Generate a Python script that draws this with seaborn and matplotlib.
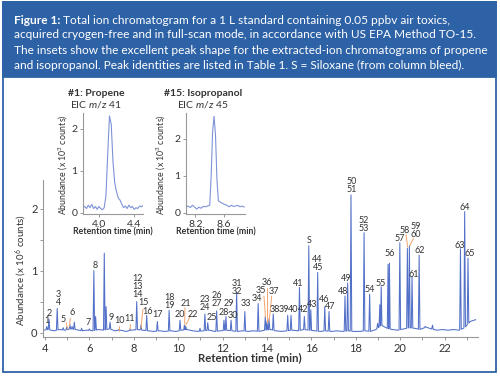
import numpy as np
import pandas as pd
import matplotlib
matplotlib.use("Agg")
import matplotlib.pyplot as plt
from matplotlib.patches import Rectangle
import seaborn as sns

# ---------------------------------------------------------------
# Data
# ---------------------------------------------------------------
# baseline (x 10^6 counts), one value every 0.25 min from 3.9 to 23.4 min
baseline_levels = [
    0.04, 0.05, 0.03, 0.05, 0.04, 0.06, 0.05, 0.03, 0.04, 0.03,
    0.05, 0.04, 0.06, 0.03, 0.04, 0.02, 0.04, 0.05, 0.04, 0.03,
    0.02, 0.03, 0.02, 0.03, 0.02, 0.04, 0.05, 0.03, 0.02, 0.03,
    0.04, 0.02, 0.03, 0.04, 0.03, 0.02, 0.03, 0.02, 0.03, 0.02,
    0.04, 0.05, 0.03, 0.02, 0.03, 0.04, 0.03, 0.05, 0.04, 0.03,
    0.02, 0.03, 0.02, 0.03, 0.02, 0.03, 0.02, 0.02, 0.03, 0.02,
    0.05, 0.12, 0.07, 0.05, 0.04, 0.06, 0.08, 0.07, 0.05, 0.09,
    0.06, 0.04, 0.05, 0.04, 0.05, 0.04, 0.08, 0.18, 0.21,
]

peak_times = [
    4.08, 4.18, 4.55, 4.82, 4.98, 5.12, 5.22, 5.32, 5.65, 6.00,
    6.20, 6.28, 6.67, 6.75, 6.93, 7.32, 7.83, 8.13, 8.32, 8.58,
    9.06, 9.59, 10.08, 10.28, 10.34, 10.98, 11.20, 11.33, 11.73, 12.06,
    12.15, 12.38, 12.63, 13.00, 13.60, 13.92, 14.00, 14.09, 14.28, 14.93,
    15.08, 15.46, 15.68, 15.88, 15.97, 16.28, 16.60, 16.79, 17.51, 17.63,
    17.78, 18.37, 18.62, 18.98, 19.08, 19.14, 19.45, 19.51, 19.98, 20.32,
    20.41, 20.53, 20.85, 21.12, 21.45, 22.71, 22.90, 23.05,
]
peak_heights = [
    0.10, 0.22, 0.39, 0.08, 0.09, 0.13, 0.10, 0.17, 0.07, 0.06,
    1.00, 0.26, 1.28, 0.42, 0.17, 0.05, 0.06, 0.50, 0.12, 0.28,
    0.18, 0.36, 0.20, 0.12, 0.10, 0.07, 0.30, 0.16, 0.35, 0.20,
    0.26, 0.20, 0.65, 0.34, 0.47, 0.26, 0.18, 0.22, 0.30, 0.28,
    0.28, 0.73, 0.26, 1.40, 0.37, 0.97, 0.42, 0.34, 0.59, 0.80,
    2.22, 1.61, 0.62, 0.15, 0.45, 0.74, 1.10, 1.12, 1.45, 1.36,
    1.40, 0.90, 1.25, 0.10, 0.12, 1.35, 1.95, 1.20,
]

# peak labels: text, retention time, abundance
label_text = ["1", "2", "3", "4", "5", "6", "7", "8", "9", "10", "11",
              "12", "13", "14", "15", "16", "17", "18", "19", "20", "21",
              "22", "23", "24", "25", "26", "27", "28", "29", "30", "31",
              "32", "33", "34", "35", "36", "37", "38", "39", "40", "42",
              "41", "S", "43", "44", "45", "46", "47", "48", "49", "50",
              "51", "52", "53", "54", "55", "56", "57", "58", "59", "60",
              "61", "62", "63", "64", "65"]
label_t = [4.08, 4.21, 4.60, 4.60, 4.80, 5.20, 5.95, 6.25, 6.97, 7.35, 7.80,
           8.18, 8.18, 8.18, 8.43, 8.62, 9.06, 9.59, 9.59, 10.08, 10.34,
           10.68, 11.22, 11.22, 11.51, 11.73, 11.73, 12.03, 12.26, 12.46, 12.63,
           12.63, 13.04, 13.56, 13.74, 14.01, 14.32, 14.34, 14.75, 15.16, 15.64,
           15.41, 15.88, 16.04, 16.28, 16.28, 16.57, 16.84, 17.44, 17.56, 17.82,
           17.82, 18.37, 18.37, 18.63, 19.14, 19.53, 19.98, 20.22, 20.71, 20.71,
           20.62, 20.86, 22.66, 22.90, 23.14]
label_v = [0.19, 0.31, 0.62, 0.48, 0.22, 0.33, 0.17, 1.08, 0.24, 0.19, 0.23,
           0.87, 0.74, 0.62, 0.48, 0.34, 0.29, 0.56, 0.43, 0.29, 0.47,
           0.30, 0.53, 0.40, 0.24, 0.60, 0.47, 0.33, 0.47, 0.28, 0.80,
           0.66, 0.47, 0.55, 0.68, 0.81, 0.67, 0.38, 0.38, 0.38, 0.38,
           0.80, 1.48, 0.46, 1.18, 1.05, 0.54, 0.42, 0.66, 0.88, 2.43,
           2.30, 1.81, 1.68, 0.70, 0.80, 1.27, 1.52, 1.65, 1.71, 1.58,
           0.94, 1.33, 1.41, 2.02, 1.27]

# orange leader lines (t0, v0, t1, v1)
leaders = [
    (4.96, 0.16, 5.02, 0.06), (5.14, 0.23, 5.10, 0.10), (7.32, 0.10, 7.32, 0.03),
    (7.85, 0.13, 7.83, 0.05), (8.41, 0.38, 8.32, 0.07), (10.30, 0.40, 10.29, 0.14),
    (10.55, 0.27, 10.34, 0.12), (13.86, 0.59, 13.93, 0.25), (14.01, 0.72, 14.01, 0.15),
    (14.21, 0.59, 14.09, 0.18), (20.26, 1.58, 20.33, 1.38), (20.59, 1.52, 20.43, 1.40),
]

# inset 1: propene EIC m/z 41
propene_t = [3.82, 3.84, 3.86, 3.88, 3.90, 3.92, 3.94, 3.96, 3.98, 4.00,
             4.02, 4.04, 4.06, 4.08, 4.10, 4.12, 4.14, 4.16, 4.18, 4.20,
             4.22, 4.24, 4.26, 4.28, 4.30, 4.32, 4.34, 4.36, 4.38, 4.40,
             4.42, 4.44, 4.46, 4.48, 4.50]
propene_v = [0.12, 0.15, 0.10, 0.18, 0.12, 0.20, 0.10, 0.15, 0.08, 0.15,
             0.10, 0.07, 0.12, 0.40, 1.40, 2.30, 2.10, 1.20, 0.70, 0.50,
             0.35, 0.30, 0.20, 0.12, 0.16, 0.10, 0.18, 0.12, 0.15, 0.08,
             0.12, 0.10, 0.16, 0.14, 0.17]

# inset 2: isopropanol EIC m/z 45
ipa_t = [8.07, 8.10, 8.13, 8.16, 8.19, 8.22, 8.25, 8.28, 8.31, 8.34,
         8.37, 8.40, 8.42, 8.44, 8.46, 8.48, 8.50, 8.52, 8.55, 8.58,
         8.61, 8.64, 8.67, 8.70, 8.73, 8.76, 8.79, 8.82, 8.85, 8.88]
ipa_v = [0.15, 0.18, 0.14, 0.20, 0.15, 0.10, 0.15, 0.12, 0.17, 0.16,
         0.18, 0.20, 1.00, 2.20, 2.60, 2.10, 0.90, 0.32, 0.28, 0.25,
         0.22, 0.20, 0.16, 0.20, 0.17, 0.18, 0.20, 0.16, 0.18, 0.15]

header_lines = [
    "Total ion chromatogram for a 1 L standard containing 0.05 ppbv air toxics,",
    "acquired cryogen-free and in full-scan mode, in accordance with US EPA Method TO-15.",
    "The insets show the excellent peak shape for the extracted-ion chromatograms of propene",
    "and isopropanol. Peak identities are listed in Table 1. S = Siloxane (from column bleed).",
]

# ---------------------------------------------------------------
sns.set_theme(style="ticks")
plt.rcParams["font.family"] = ["Lato", "DejaVu Sans"]
plt.rcParams["mathtext.fontset"] = "custom"
plt.rcParams["mathtext.rm"] = "Lato"
plt.rcParams["mathtext.it"] = "Lato:italic"
plt.rcParams["mathtext.bf"] = "Lato:bold"

BLUE = "#2d62a6"
TRACE = "#5270c8"
INSET = "#7f93d8"
GREY = "#999999"
TXT = "#333333"
ORANGE = "#f2a36c"

W, H = 500, 377
fig = plt.figure(figsize=(W / 100, H / 100), dpi=100)

def fx(px):
    return px / W

def fy(py):
    return 1 - py / H

# frame + header band
fig.add_artist(Rectangle((fx(3), fy(372)), fx(493), 370 / H, transform=fig.transFigure,
                         fill=False, edgecolor=BLUE, lw=1.3))
fig.add_artist(Rectangle((fx(3), fy(77)), fx(493), 75 / H, transform=fig.transFigure,
                         facecolor=BLUE, edgecolor=BLUE, lw=1.3))

hdr_size = 8.6
t0 = fig.text(fx(14), fy(20), "Figure 1:", color="white", fontsize=hdr_size,
              fontweight="bold", va="center")
fig.canvas.draw()
bb = t0.get_window_extent()
for i, line in enumerate(header_lines):
    x = fx(bb.x1 + 3) if i == 0 else fx(14)
    fig.text(x, fy(20 + 15 * i), line, color="white", fontsize=hdr_size, va="center")

# ---------------------------------------------------------------
# main chromatogram
# ---------------------------------------------------------------
hw = 0.035
base_t = np.linspace(3.9, 23.4, len(baseline_levels))
pt = np.array(peak_times)
near = np.min(np.abs(base_t[:, None] - pt[None, :]), axis=1) < 1.5 * hw
feet_t = np.concatenate([pt - hw, pt + hw])
feet_v = np.interp(feet_t, base_t, baseline_levels)
trace = pd.DataFrame({
    "t": np.concatenate([base_t[~near], feet_t, pt]),
    "v": np.concatenate([np.array(baseline_levels)[~near], feet_v, peak_heights]),
}).sort_values("t")

ax = fig.add_axes([fx(43), fy(337), fx(435), 157 / H])
sns.lineplot(data=trace, x="t", y="v", ax=ax, estimator=None, sort=False,
             color=TRACE, lw=0.75)
ax.set_xlim(3.91, 23.5)
ax.set_ylim(-0.07, 2.46)
ax.set_xticks([4, 6, 8, 10, 12, 14, 16, 18, 20, 22])
ax.set_xticks(range(5, 24, 2), minor=True)
ax.set_yticks([0, 1, 2])
ax.set_yticks([0.5, 1.5], minor=True)
ax.set_xlabel("")
ax.set_ylabel("")
sns.despine(ax=ax)

for s in ["left", "bottom"]:
    ax.spines[s].set_color(GREY)
    ax.spines[s].set_linewidth(0.8)
ax.tick_params(which="both", colors=GREY, labelcolor=TXT, labelsize=8,
               length=2.5, width=0.7, pad=1.5)

for txt, t, v in zip(label_text, label_t, label_v):
    ax.text(t, v, txt, ha="center", va="center", fontsize=6.5, color=TXT, clip_on=False)
for t0_, v0_, t1_, v1_ in leaders:
    ax.plot([t0_, t1_], [v0_, v1_], color=ORANGE, lw=0.7)

fig.text(fx(250), fy(358), "Retention time (min)", ha="center", va="center",
         fontsize=8.2, fontweight="bold", color=TXT)
fig.text(fx(21), fy(270), r"Abundance (x 10$^6$ counts)", ha="center", va="center",
         rotation=90, fontsize=7, color=TXT)

# ---------------------------------------------------------------
# insets
# ---------------------------------------------------------------
insets = [
    (83, 143, propene_t, propene_v, (3.82, 4.5), (-0.03, 2.37), [4.0, 4.4],
     "#1: Propene", r"EIC $\it{m/z}$ 41", 96, 63),
    (186, 245, ipa_t, ipa_v, (8.07, 8.89), (-0.035, 2.69), [8.2, 8.6],
     "#15: Isopropanol", r"EIC $\it{m/z}$ 45", 203, 161),
]
for left, right, tt, vv, xl, yl, xt, title, sub, tx, ylx in insets:
    ia = fig.add_axes([fx(left), fy(214), fx(right - left), 101 / H])
    sns.lineplot(x=tt, y=vv, ax=ia, color=INSET, lw=0.8)
    ia.set_xlim(*xl)
    ia.set_ylim(*yl)
    ia.set_xticks(xt)
    ia.set_xticklabels([f"{x:.1f}" for x in xt])
    ia.set_yticks([0, 1, 2])
    sns.despine(ax=ia)
    for s in ["left", "bottom"]:
        ia.spines[s].set_color(GREY)
        ia.spines[s].set_linewidth(0.8)
    ia.tick_params(which="both", colors=GREY, labelcolor=TXT, labelsize=7.5,
                   length=2.5, width=0.7, pad=1.5)
    fig.text(fx(tx), fy(93), title, ha="center", va="center", fontsize=7.5,
             fontweight="bold", color=TXT)
    fig.text(fx(tx), fy(105), sub, ha="center", va="center", fontsize=7.5, color=TXT)
    fig.text(fx(ylx), fy(165), r"Abundance (x 10$^3$ counts)", ha="center", va="center",
             rotation=90, fontsize=6.3, color=TXT)
    fig.text(fx((left + right) / 2), fy(232), "Retention time (min)", ha="center",
             va="center", fontsize=6.3, fontweight="bold", color=TXT)

fig.savefig("out.png", dpi=100)
